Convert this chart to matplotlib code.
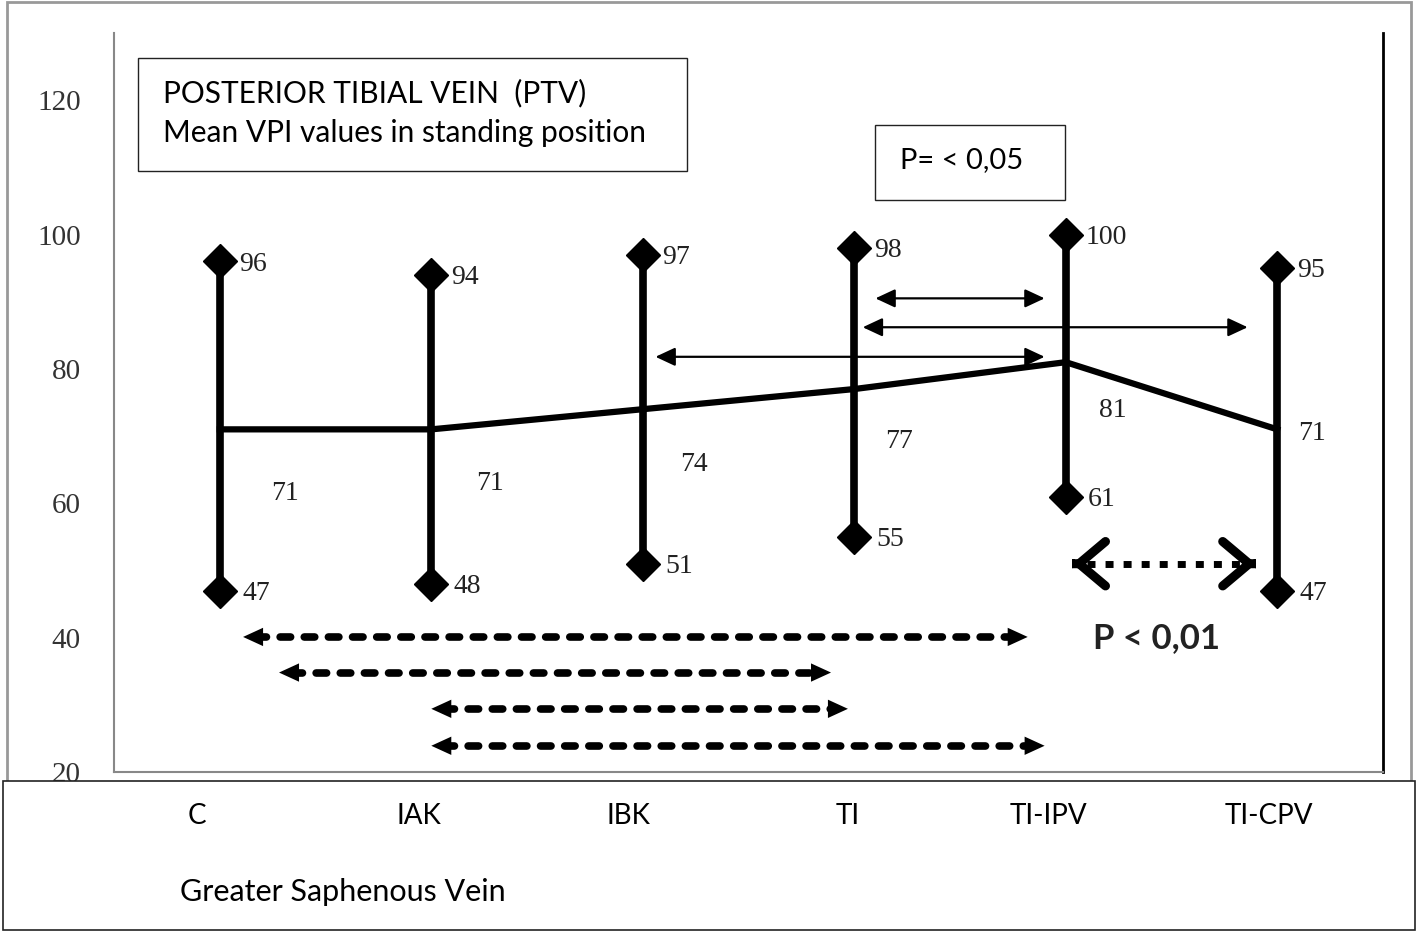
import matplotlib.pyplot as plt
from matplotlib.patches import Rectangle
from matplotlib.transforms import blended_transform_factory

categories = ['C', 'IAK', 'IBK', 'TI', 'TI-IPV', 'TI-CPV']
vpi_max = [96, 94, 97, 98, 100, 95]
vpi_min = [47, 48, 51, 55, 61, 47]
vpi_mean = [71, 71, 74, 77, 81, 71]
y_ticks = [20, 40, 60, 80, 100, 120]

# significance arrows: (x start, x end, y level) in data units
thin_arrows = [(3.10, 3.90, 90.5), (3.04, 4.86, 86.2), (2.06, 3.90, 81.8)]
dashed_arrows = [(0.11, 3.82, 40.1), (0.28, 2.89, 34.8), (1.00, 2.97, 29.4), (1.00, 3.90, 23.9)]
dotted_arrow = (4.03, 4.90, 51.0)

# where the mean labels sit relative to their point (points)
mean_offsets = [(47, -46), (42, -39), (37, -40), (32, -38), (34, -35), (25, -3)]
# small horizontal nudges of the category names (data units)
cat_nudge = [-0.11, -0.06, -0.07, -0.03, -0.08, -0.04]

SERIF = 'Liberation Serif'
SANS = 'Lato'

fig = plt.figure(figsize=(14.17, 9.32), dpi=100)
ax = fig.add_axes([0.0805, 0.1717, 0.8955, 0.7929])

x = list(range(len(categories)))

# min-max bars, diamonds and the mean line
ax.vlines(x, vpi_min, vpi_max, color='k', lw=5.5, zorder=3)
ax.plot(x, vpi_max, 'D', ms=17, color='k', zorder=4)
ax.plot(x, vpi_min, 'D', ms=17, color='k', zorder=4)
ax.plot(x, vpi_mean, color='k', lw=4.5, zorder=3)

for i in x:
    ax.annotate(str(vpi_max[i]), (i, vpi_max[i]), xytext=(14, -2), textcoords='offset points',
                ha='left', va='center', fontsize=20, family=SERIF, color='#222')
    ax.annotate(str(vpi_min[i]), (i, vpi_min[i]), xytext=(16, -2), textcoords='offset points',
                ha='left', va='center', fontsize=20, family=SERIF, color='#222')
    ax.annotate(str(vpi_mean[i]), (i, vpi_mean[i]), xytext=mean_offsets[i], textcoords='offset points',
                ha='center', va='center', fontsize=20, family=SERIF, color='#222')

# thin solid double arrows (p < 0.05)
for x0, x1, y in thin_arrows:
    ax.annotate('', xy=(x1, y), xytext=(x0, y),
                arrowprops=dict(arrowstyle='<|-|>,head_length=0.6,head_width=0.28', lw=1.6,
                                color='k', shrinkA=0, shrinkB=0, mutation_scale=20))

# thick dashed double arrows (p < 0.01)
for x0, x1, y in dashed_arrows:
    ax.plot([x0 + 0.06, x1 - 0.06], [y, y], color='k', lw=5.5, ls=(0, (1.37, 1.79)),
            dash_capstyle='round')
    ax.annotate('', xy=(x1, y), xytext=(x0, y),
                arrowprops=dict(arrowstyle='<|-|>,head_length=0.72,head_width=0.33', lw=0,
                                color='k', shrinkA=0, shrinkB=0, mutation_scale=20))

# dotted arrow with open chevrons
x0, x1, y = dotted_arrow
ax.plot([x0 + 0.07, x1 - 0.07], [y, y], color='k', lw=5, ls=(0, (1.15, 1.45)))
for tip, back in [(x0, x0 + 0.001), (x1, x1 - 0.001)]:
    ax.annotate('', xy=(tip, y), xytext=(back, y),
                arrowprops=dict(arrowstyle='->,head_length=0.95,head_width=0.8', lw=6.5,
                                color='k', shrinkA=0, shrinkB=0, mutation_scale=20,
                                joinstyle='miter', capstyle='round'))
ax.text(4.43, 40, 'P < 0,01', ha='center', va='center', fontsize=25,
        fontweight='bold', family=SANS, color='#222')

# text boxes
ax.add_patch(Rectangle((0.019, 0.813), 0.4325, 0.153, transform=ax.transAxes,
                       fill=False, ec='#222', lw=1))
ax.text(0.0386, 0.9187, 'POSTERIOR TIBIAL VEIN  (PTV)', transform=ax.transAxes,
        ha='left', va='center', fontsize=21.5, family=SANS)
ax.text(0.0386, 0.8645, 'Mean VPI values in standing position', transform=ax.transAxes,
        ha='left', va='center', fontsize=21.5, family=SANS)
ax.add_patch(Rectangle((0.5997, 0.7737), 0.1497, 0.1016, transform=ax.transAxes,
                       fill=False, ec='#222', lw=1))
ax.text(0.6194, 0.828, 'P= < 0,05', transform=ax.transAxes,
        ha='left', va='center', fontsize=21, family=SANS)

ax.set_xlim(-0.5, 5.5)
ax.set_ylim(20, 130)
ax.set_xticks([])
ax.set_yticks(y_ticks)
ax.set_yticklabels([str(t) for t in y_ticks], family=SERIF, fontsize=21, color='#333')
ax.tick_params(axis='y', length=0, pad=24)
ax.spines['top'].set_visible(False)
ax.spines['left'].set_color('#888')
ax.spines['left'].set_linewidth(1.5)
ax.spines['bottom'].set_color('#888')
ax.spines['bottom'].set_linewidth(1.5)
ax.spines['right'].set_color('k')
ax.spines['right'].set_linewidth(2)

# outer frame and the category box at the bottom
fig.add_artist(Rectangle((0.005, 0.1), 0.991, 0.8975, transform=fig.transFigure,
                         fill=False, ec='#999', lw=2, zorder=1))
fig.add_artist(Rectangle((0.0021, 0.0021), 0.9965, 0.16, transform=fig.transFigure,
                         fc='white', ec='#222', lw=1.2, zorder=2))
cat_trans = blended_transform_factory(ax.transData, fig.transFigure)
for i, name in enumerate(categories):
    fig.text(i + cat_nudge[i], 0.1245, name, transform=cat_trans, ha='center', va='center',
             fontsize=20, family=SANS, zorder=3)
fig.text(0.127, 0.0429, 'Greater Saphenous Vein', ha='left', va='center',
         fontsize=22, family=SANS, zorder=3)

fig.savefig('out.png', dpi=100)
